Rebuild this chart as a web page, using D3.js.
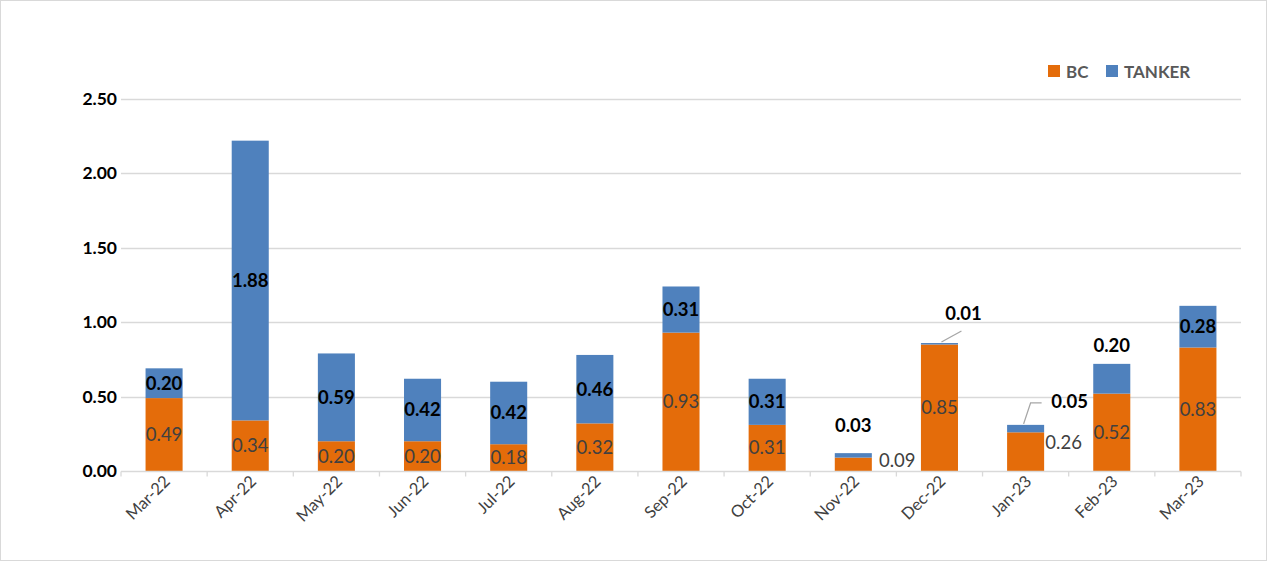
<!DOCTYPE html>
<html>
<head>
<meta charset="utf-8">
<script src="https://cdn.jsdelivr.net/npm/d3@7"></script>
<style>
  body { margin: 0; background: #fff; }
  svg { display: block; font-family: Lato, "Open Sans", sans-serif; }
</style>
</head>
<body>
<div id="chart"></div>
<script>
const months = ["Mar-22", "Apr-22", "May-22", "Jun-22", "Jul-22", "Aug-22", "Sep-22", "Oct-22", "Nov-22", "Dec-22", "Jan-23", "Feb-23", "Mar-23"];
const bc = [0.49, 0.34, 0.20, 0.20, 0.18, 0.32, 0.93, 0.31, 0.09, 0.85, 0.26, 0.52, 0.83];
const tanker = [0.20, 1.88, 0.59, 0.42, 0.42, 0.46, 0.31, 0.31, 0.03, 0.01, 0.05, 0.20, 0.28];
const yTicks = [0, 0.5, 1, 1.5, 2, 2.5];

const W = 1267, H = 561;
const margin = {left: 121, right: 26, top: 99, bottom: 90};
const ORANGE = "#E46C0A", BLUE = "#4F81BD";

const svg = d3.select("#chart").append("svg")
    .attr("width", W).attr("height", H);

svg.append("rect")
    .attr("x", 0.5).attr("y", 0.5)
    .attr("width", W - 1).attr("height", H - 1)
    .attr("fill", "#fff").attr("stroke", "#d9d9d9");

const x = d3.scaleBand()
    .domain(months)
    .range([margin.left, W - margin.right])
    .paddingInner(0.57).paddingOuter(0.285);

const y = d3.scaleLinear()
    .domain([0, 2.5])
    .range([H - margin.bottom, margin.top]);

// grid
svg.append("g").selectAll("line")
    .data(yTicks.filter(d => d > 0))
    .enter().append("line")
    .attr("x1", margin.left).attr("x2", W - margin.right)
    .attr("y1", d => Math.round(y(d)) + 0.5).attr("y2", d => Math.round(y(d)) + 0.5)
    .attr("stroke", "#d9d9d9").attr("stroke-width", 1.3);

// y axis labels
svg.append("g").selectAll("text")
    .data(yTicks)
    .enter().append("text")
    .attr("x", 117).attr("y", d => y(d) + 6)
    .attr("text-anchor", "end")
    .attr("font-size", 17.5).attr("font-weight", "bold").attr("fill", "#000")
    .text(d => d.toFixed(2));

const rows = months.map((m, i) => ({m, bc: bc[i], tk: tanker[i], i}));

// bars
const bw = x.bandwidth();
svg.append("g").selectAll("rect")
    .data(rows).enter().append("rect")
    .attr("x", d => x(d.m)).attr("width", bw)
    .attr("y", d => y(d.bc)).attr("height", d => y(0) - y(d.bc))
    .attr("fill", ORANGE);
svg.append("g").selectAll("rect")
    .data(rows).enter().append("rect")
    .attr("x", d => x(d.m)).attr("width", bw)
    .attr("y", d => y(d.bc + d.tk)).attr("height", d => y(d.bc) - y(d.bc + d.tk))
    .attr("fill", BLUE);

// x axis
const x0 = margin.left, x1 = W - margin.right, ay = Math.round(y(0)) + 0.5;
svg.append("line").attr("x1", x0).attr("x2", x1).attr("y1", ay).attr("y2", ay)
    .attr("stroke", "#d9d9d9").attr("stroke-width", 1.3);
const step = x.step();
svg.append("g").selectAll("line")
    .data(d3.range(months.length + 1))
    .enter().append("line")
    .attr("x1", i => x(months[0]) - x.paddingOuter() * step + i * step)
    .attr("x2", i => x(months[0]) - x.paddingOuter() * step + i * step)
    .attr("y1", ay).attr("y2", ay + 5)
    .attr("stroke", "#d9d9d9").attr("stroke-width", 1.3);

svg.append("g").selectAll("text")
    .data(months).enter().append("text")
    .attr("transform", d => `translate(${x(d) + bw / 2 + 7},${ay + 11}) rotate(-45)`)
    .attr("text-anchor", "end")
    .attr("font-size", 16.5).attr("fill", "#404040")
    .text(d => d);

// data labels (special placements for thin segments)
const bcLabelShift = {8: [44, 5], 10: [38, 0]};
const tkLabelPos = {8: [0, -28], 9: [24, -30], 10: [44, -23], 11: [0, -18]};

svg.append("g").selectAll("text")
    .data(rows).enter().append("text")
    .attr("x", d => x(d.m) + bw / 2 + (bcLabelShift[d.i] ? bcLabelShift[d.i][0] : 0))
    .attr("y", d => (bcLabelShift[d.i] ? (y(0) + y(d.bc)) / 2 - 9 + bcLabelShift[d.i][1] : (y(0) + y(d.bc)) / 2) + 6.5)
    .attr("text-anchor", "middle")
    .attr("font-size", 18.5).attr("fill", "#404040")
    .text(d => d.bc.toFixed(2));

svg.append("g").selectAll("text")
    .data(rows).enter().append("text")
    .attr("x", d => x(d.m) + bw / 2 + (tkLabelPos[d.i] ? tkLabelPos[d.i][0] : 0))
    .attr("y", d => {
        const mid = (y(d.bc) + y(d.bc + d.tk)) / 2;
        return (tkLabelPos[d.i] ? y(d.bc + d.tk) + tkLabelPos[d.i][1] : mid) + 6.5;
    })
    .attr("text-anchor", "middle")
    .attr("font-size", 18.5).attr("font-weight", "bold").attr("fill", "#000")
    .text(d => d.tk.toFixed(2));

// leader lines for Dec-22 and Jan-23
[9, 10].forEach(i => {
    const r = rows[i];
    const cx = x(r.m) + bw / 2, top = y(r.bc + r.tk);
    const pts = i === 9
        ? [[cx + 2, top - 1], [cx + 22, top - 12]]
        : [[cx - 2, top - 1], [cx + 5, top - 22], [cx + 16, top - 22]];
    svg.append("path")
        .attr("d", d3.line()(pts))
        .attr("fill", "none").attr("stroke", "#a6a6a6").attr("stroke-width", 1.3);
});

// legend
const legend = svg.append("g").attr("font-size", 17).attr("font-weight", "bold").attr("fill", "#595959");
[["BC", ORANGE, 1048], ["TANKER", BLUE, 1106]].forEach(([name, col, lx]) => {
    legend.append("rect").attr("x", lx).attr("y", 65).attr("width", 12).attr("height", 12).attr("fill", col);
    legend.append("text").attr("x", lx + 18).attr("y", 77.5).text(name);
});
</script>
</body>
</html>
